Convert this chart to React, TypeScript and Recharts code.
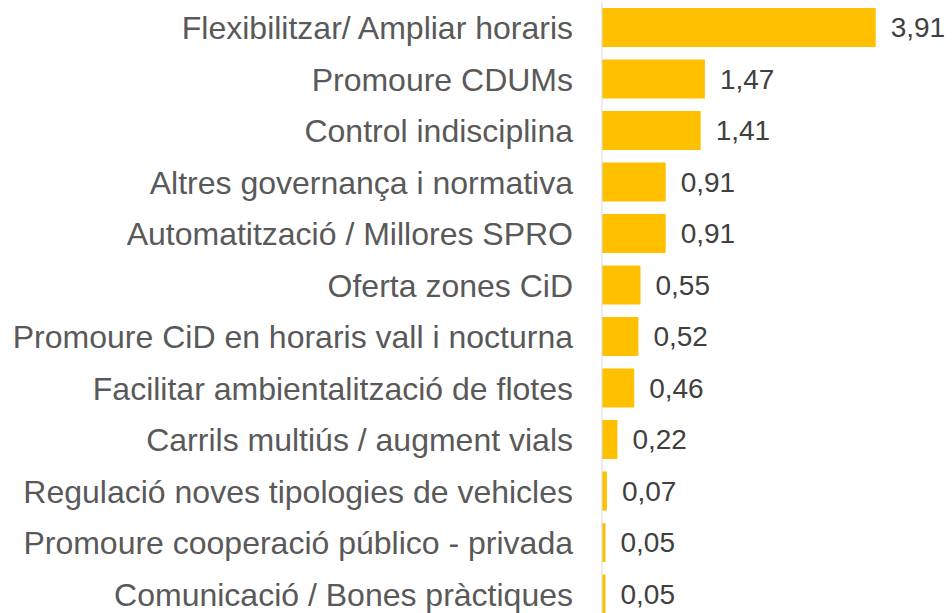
import { BarChart, Bar, XAxis, YAxis, LabelList } from 'recharts';

const categories = [
  'Flexibilitzar/ Ampliar horaris',
  'Promoure CDUMs',
  'Control indisciplina',
  'Altres governança i normativa',
  'Automatització / Millores SPRO',
  'Oferta zones CiD',
  'Promoure CiD en horaris vall i nocturna',
  'Facilitar ambientalització de flotes',
  'Carrils multiús / augment vials',
  'Regulació noves tipologies de vehicles',
  'Promoure cooperació público - privada',
  'Comunicació / Bones pràctiques',
];

const values = [3.91, 1.47, 1.41, 0.91, 0.91, 0.55, 0.52, 0.46, 0.22, 0.07, 0.05, 0.05];

const data = categories.map((name, i) => ({ name, value: values[i] }));

const font = '"Liberation Sans", Arial, sans-serif';

const CategoryTick = (props: any) => {
  const { x, y, payload } = props;
  return (
    <text
      x={x - 21}
      y={y}
      dy="0.355em"
      textAnchor="end"
      fill="#595959"
      fontSize={32}
      fontFamily={font}
    >
      {payload.value}
    </text>
  );
};

export default function App() {
  return (
    <div style={{ position: 'absolute', left: 0, top: 0, width: 952, height: 613, overflow: 'hidden' }}>
      <BarChart
        width={952}
        height={620}
        data={data}
        layout="vertical"
        margin={{ top: 2, right: 70, bottom: 0, left: 0 }}
      >
        <XAxis type="number" domain={[0, 4]} hide />
        <YAxis
          type="category"
          dataKey="name"
          width={602}
          axisLine={{ stroke: '#d9d9d9', strokeWidth: 1 }}
          tickLine={false}
          tick={<CategoryTick />}
          interval={0}
        />
        <Bar dataKey="value" fill="#ffc000" barSize={39} isAnimationActive={false}>
          <LabelList
            dataKey="value"
            position="right"
            offset={15}
            formatter={(v: any) => Number(v).toFixed(2).replace('.', ',')}
            fill="#404040"
            fontSize={28}
            fontFamily={font}
          />
        </Bar>
      </BarChart>
    </div>
  );
}
